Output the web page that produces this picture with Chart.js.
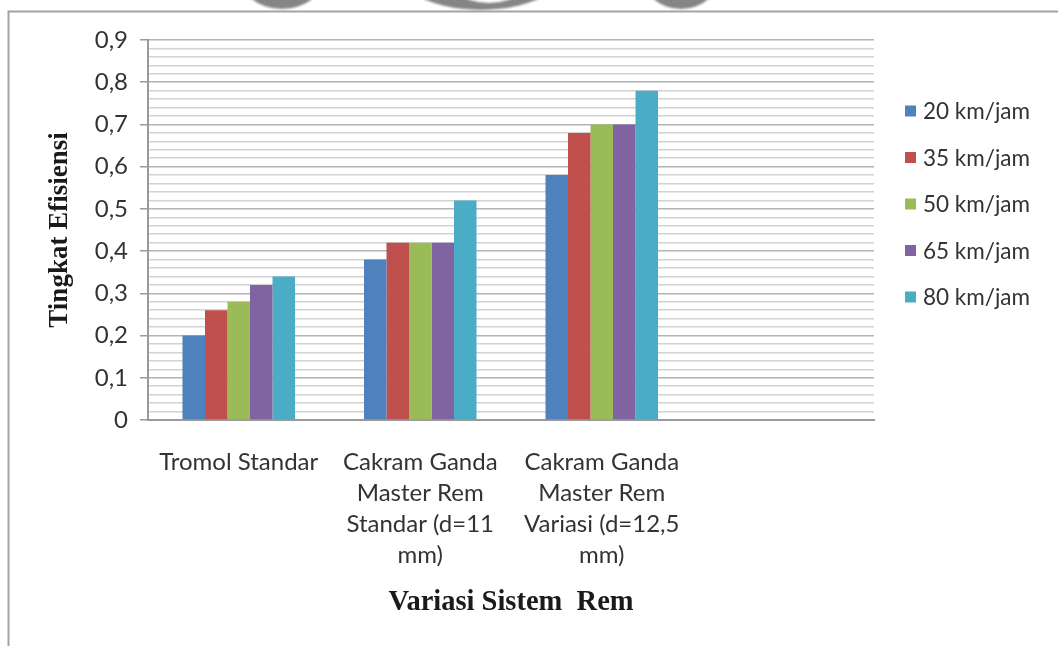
<!DOCTYPE html>
<html>
<head>
<meta charset="utf-8">
<script src="https://cdn.jsdelivr.net/npm/chart.js@4.4.1/dist/chart.umd.min.js"></script>
<style>
  html, body { margin: 0; padding: 0; background: #ffffff; }
  canvas { display: block; }
</style>
</head>
<body>
<canvas id="chart" width="1058" height="646"></canvas>
<script>
// Brake system variants (the last slot is left empty on purpose)
const categories = [
  ['Tromol Standar'],
  ['Cakram Ganda', 'Master Rem', 'Standar (d=11', 'mm)'],
  ['Cakram Ganda', 'Master Rem', 'Variasi (d=12,5', 'mm)'],
  ''
];

// Efficiency per speed
const speedLabels = ['20 km/jam', '35 km/jam', '50 km/jam', '65 km/jam', '80 km/jam'];
const eff20 = [0.20, 0.38, 0.58];
const eff35 = [0.26, 0.42, 0.68];
const eff50 = [0.28, 0.42, 0.70];
const eff65 = [0.32, 0.42, 0.70];
const eff80 = [0.34, 0.52, 0.78];

// Value axis labels (major steps of 0.1, minor grid every 0.02)
const yTickLabels = ['0', '0,1', '0,2', '0,3', '0,4', '0,5', '0,6', '0,7', '0,8', '0,9'];

const seriesColors = ['#4F81BD', '#C0504D', '#9BBB59', '#8064A2', '#4BACC6'];
const seriesValues = [eff20, eff35, eff50, eff65, eff80];

const textColor = '#333333';
const sansFamily = 'Lato, "Open Sans", sans-serif';
const serifFamily = '"Liberation Serif", "DejaVu Serif", serif';

function isMajor(value) {
  return Math.round(value * 50) % 5 === 0;
}

// Page frame and the grey shapes peeking in at the top edge
const framePlugin = {
  id: 'frame',
  beforeDraw(chart) {
    const ctx = chart.ctx;
    ctx.save();
    ctx.fillStyle = '#ffffff';
    ctx.fillRect(0, 0, chart.width, chart.height);

    ctx.filter = 'blur(1px)';
    ctx.fillStyle = '#858585';
    ctx.beginPath();
    ctx.ellipse(282, -28, 44, 37, 0, 0, Math.PI * 2);
    ctx.fill();
    ctx.beginPath();
    ctx.ellipse(481, -50, 99, 60, 0, 0, Math.PI * 2);
    ctx.fill();
    ctx.fillStyle = '#ffffff';
    ctx.beginPath();
    ctx.ellipse(489, -40, 52, 43, 0, 0, Math.PI * 2);
    ctx.fill();
    ctx.fillStyle = '#858585';
    ctx.beginPath();
    ctx.ellipse(681, -28, 40, 37, 0, 0, Math.PI * 2);
    ctx.fill();
    ctx.filter = 'none';

    ctx.fillStyle = '#ffffff';
    ctx.fillRect(0, 11, chart.width, chart.height);
    ctx.strokeStyle = '#a3a3a3';
    ctx.lineWidth = 2;
    ctx.beginPath();
    ctx.moveTo(8.5, chart.height + 2);
    ctx.lineTo(8.5, 11.5);
    ctx.lineTo(chart.width + 2, 11.5);
    ctx.stroke();
    ctx.restore();
  }
};

// Vertical legend on the right of the plot
const sideLegendPlugin = {
  id: 'sideLegend',
  afterDraw(chart) {
    const ctx = chart.ctx;
    const x0 = chart.chartArea.right + 31;
    const y0 = 111;
    const step = 46.5;
    ctx.save();
    ctx.font = '22.5px ' + sansFamily;
    ctx.textBaseline = 'middle';
    ctx.textAlign = 'left';
    chart.data.datasets.forEach((ds, i) => {
      const y = y0 + i * step;
      ctx.fillStyle = ds.backgroundColor;
      ctx.fillRect(x0, y - 5.5, 11, 11);
      ctx.fillStyle = textColor;
      ctx.fillText(ds.label, x0 + 18, y + 1);
    });
    ctx.restore();
  }
};

new Chart(document.getElementById('chart'), {
  type: 'bar',
  data: {
    labels: categories,
    datasets: speedLabels.map((label, i) => ({
      label: label,
      data: seriesValues[i],
      backgroundColor: seriesColors[i],
      borderWidth: 0,
      categoryPercentage: 0.62,
      barPercentage: 1.0
    }))
  },
  options: {
    responsive: false,
    animation: false,
    layout: { padding: { left: 0, right: 184, top: 40, bottom: 0 } },
    plugins: {
      legend: { display: false },
      tooltip: { enabled: false }
    },
    scales: {
      x: {
        afterFit(scale) { scale.height = 226; },
        grid: { display: false, drawTicks: false },
        border: { display: true, color: '#9a9a9a', width: 2 },
        ticks: {
          color: textColor,
          font: { family: sansFamily, size: 24, lineHeight: 31 / 24 },
          padding: 27,
          maxRotation: 0,
          autoSkip: false
        },
        title: {
          display: true,
          text: 'Variasi Sistem  Rem',
          color: '#1a1a1a',
          font: { family: serifFamily, size: 28.5, weight: 'bold' },
          padding: { top: 0, bottom: 26 }
        }
      },
      y: {
        min: 0,
        max: 0.9,
        afterFit(scale) { scale.width = 148; },
        grid: {
          color: (c) => (c.tick && isMajor(c.tick.value)) ? '#b4b4b4' : '#d2d2d2',
          lineWidth: 1.5,
          tickColor: (c) => (c.tick && isMajor(c.tick.value)) ? '#9a9a9a' : 'rgba(0,0,0,0)',
          tickLength: 8,
          drawTicks: true
        },
        border: { display: true, color: '#9a9a9a', width: 2 },
        ticks: {
          stepSize: 0.02,
          autoSkip: false,
          color: textColor,
          padding: 12,
          font: { family: sansFamily, size: 24 },
          callback: (value) => {
            const k = Math.round(value * 50);
            return k % 5 === 0 ? yTickLabels[k / 5] : '';
          }
        },
        title: {
          display: true,
          text: 'Tingkat Efisiensi',
          color: '#1a1a1a',
          font: { family: serifFamily, size: 27, weight: 'bold' },
          padding: { top: 44, bottom: 0 }
        }
      }
    }
  },
  plugins: [framePlugin, sideLegendPlugin]
});
</script>
</body>
</html>
